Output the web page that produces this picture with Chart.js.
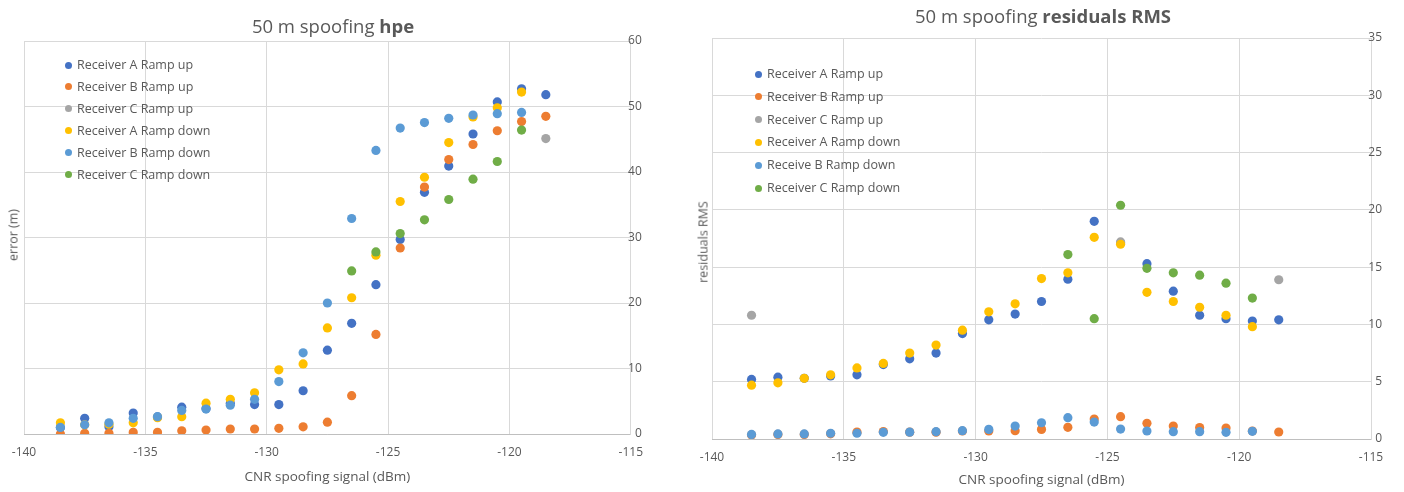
<!DOCTYPE html>
<html>
<head>
<meta charset="utf-8">
<script src="https://cdn.jsdelivr.net/npm/chart.js@4/dist/chart.umd.min.js"></script>
<style>
  html, body { margin: 0; padding: 0; background: #ffffff; }
  #wrap { position: relative; width: 1404px; height: 492px; background: #ffffff; overflow: hidden;
          font-family: 'Open Sans', sans-serif; color: #595959; }
  canvas { position: absolute; top: 0; }
  .title { position: absolute; transform: translate(-50%, -50%); font-size: 18.5px; white-space: nowrap; }
  .title b { font-weight: 700; }
  .ytitle { position: absolute; transform: translate(-50%, -50%) rotate(-90deg); font-size: 12.5px; white-space: nowrap; }
  .leg { position: absolute; font-size: 12.5px; white-space: nowrap; line-height: 16px; }
  .leg .dot { position: absolute; width: 7px; height: 7px; border-radius: 50%; }
</style>
</head>
<body>
<div id="wrap">
  <canvas id="c1" width="654" height="492" style="left:0px"></canvas>
  <canvas id="c2" width="724" height="492" style="left:680px"></canvas>
  <div class="title" style="left:333px; top:25px">50 m spoofing <b>hpe</b></div>
  <div class="title" style="left:1043px; top:15px">50 m spoofing <b>residuals RMS</b></div>
  <div class="ytitle" style="left:13px; top:235px">error (m)</div>
  <div class="ytitle" style="left:703px; top:242px">residuals RMS</div>
</div>
<script>
// ---- categories (CNR spoofing signal, dBm) ----
const cnr = [-138.5,-137.5,-136.5,-135.5,-134.5,-133.5,-132.5,-131.5,-130.5,-129.5,-128.5,-127.5,-126.5,-125.5,-124.5,-123.5,-122.5,-121.5,-120.5,-119.5,-118.5];

// ---- series names / colours ----
const namesLeft  = ['Receiver A Ramp up','Receiver B Ramp up','Receiver C Ramp up','Receiver A Ramp down','Receiver B Ramp down','Receiver C Ramp down'];
const namesRight = ['Receiver A Ramp up','Receiver B Ramp up','Receiver C Ramp up','Receiver A Ramp down','Receive B Ramp down','Receiver C Ramp down'];
const colors = ['#4472C4','#ED7D31','#A5A5A5','#FFC000','#5B9BD5','#70AD47'];

// ---- hpe (error, m) ----
const hpeAUp   = [1.0, 2.4, 1.1, 3.2, 2.6, 4.1, 3.9, 4.7, 4.5, 4.5, 6.6, 12.8, 16.9, 22.8, 29.7, 36.9, 40.9, 45.8, 50.7, 52.7, 51.8];
const hpeBUp   = [0.0, 0.1, 0.1, 0.25, 0.25, 0.5, 0.6, 0.76, 0.76, 0.87, 1.1, 1.8, 5.85, 15.2, 28.4, 37.7, 41.9, 44.2, 46.3, 47.7, 48.5];
const hpeCUp   = [null, null, null, null, null, null, null, null, null, null, null, null, null, null, null, null, null, null, null, null, 45.1];
const hpeADown = [1.7, 1.4, 1.5, 1.7, 2.5, 2.65, 4.7, 5.3, 6.3, 9.8, 10.7, 16.2, 20.8, 27.3, 35.5, 39.2, 44.5, 48.4, 49.8, 52.2, null];
const hpeBDown = [1.0, 1.4, 1.7, 2.4, 2.65, 3.6, 3.8, 4.4, 5.3, 8.0, 12.4, 20.0, 32.9, 43.3, 46.7, 47.55, 48.2, 48.7, 48.9, 49.1, null];
const hpeCDown = [null, null, null, null, null, null, null, null, null, null, null, null, 24.9, 27.8, 30.6, 32.7, 35.8, 38.9, 41.6, 46.4, null];

// ---- residuals RMS ----
const rmsAUp   = [5.2, 5.4, 5.3, 5.5, 5.6, 6.5, 7.0, 7.5, 9.2, 10.4, 10.9, 12.0, 13.95, 19.0, 17.1, 15.3, 12.9, 10.8, 10.5, 10.3, 10.4];
const rmsBUp   = [0.35, 0.4, 0.4, 0.45, 0.6, 0.65, 0.6, 0.6, 0.7, 0.7, 0.73, 0.84, 1.02, 1.74, 1.95, 1.37, 1.13, 1.0, 0.96, 0.7, 0.61];
const rmsCUp   = [10.8, null, null, null, null, null, null, null, null, null, null, null, null, null, 17.2, null, null, null, null, null, 13.9];
const rmsADown = [4.7, 4.9, 5.3, 5.6, 6.2, 6.6, 7.5, 8.2, 9.5, 11.1, 11.8, 14.0, 14.5, 17.6, 17.0, 12.8, 12.0, 11.5, 10.8, 9.8, null];
const rmsBDown = [0.4, 0.44, 0.44, 0.5, 0.5, 0.58, 0.6, 0.64, 0.73, 0.84, 1.13, 1.42, 1.86, 1.48, 0.87, 0.7, 0.64, 0.64, 0.58, 0.67, null];
const rmsCDown = [null, null, null, null, null, null, null, null, null, null, null, null, 16.1, 10.5, 20.4, 14.9, 14.5, 14.3, 13.6, 12.3, null];

// ---- axis ticks ----
const xTicks = [-140, -135, -130, -125, -120, -115];
const hpeTicks = [0, 10, 20, 30, 40, 50, 60];
const rmsTicks = [0, 5, 10, 15, 20, 25, 30, 35];

Chart.defaults.font.family = "'Open Sans', sans-serif";
Chart.defaults.color = '#595959';

function pts(vals) {
  const out = [];
  vals.forEach((v, i) => { if (v !== null) out.push({x: cnr[i], y: v}); });
  return out;
}

function makeChart(id, seriesList, names, yTicks, pad, xAxisH, xTitlePadBottom) {
  const datasets = seriesList.map((vals, i) => ({
    label: names[i],
    data: pts(vals),
    backgroundColor: colors[i],
    borderColor: colors[i],
    borderWidth: 0,
    pointRadius: 4.6,
    pointHoverRadius: 4.6,
    showLine: false,
    order: seriesList.length - i
  }));
  return new Chart(document.getElementById(id), {
    type: 'scatter',
    data: { datasets },
    options: {
      responsive: false,
      animation: false,
      devicePixelRatio: 1,
      layout: { padding: pad },
      plugins: { legend: { display: false }, tooltip: { enabled: false }, title: { display: false } },
      scales: {
        x: {
          type: 'linear',
          position: 'bottom',
          min: xTicks[0],
          max: xTicks[xTicks.length - 1],
          afterBuildTicks: (axis) => { axis.ticks = xTicks.map(v => ({value: v})); },
          afterFit: (axis) => { axis.height = xAxisH; },
          grid: { color: '#d9d9d9', lineWidth: 1, drawTicks: false },
          border: { display: true, color: '#bfbfbf', width: 1 },
          ticks: { font: { size: 12 }, color: '#595959', padding: 11, maxRotation: 0 },
          title: { display: true, text: 'CNR spoofing signal (dBm)', font: { size: 13.5 }, color: '#595959',
                   padding: { top: 0, bottom: xTitlePadBottom } }
        },
        y: {
          type: 'linear',
          position: 'right',
          min: yTicks[0],
          max: yTicks[yTicks.length - 1],
          afterBuildTicks: (axis) => { axis.ticks = yTicks.map(v => ({value: v})); },
          afterFit: (axis) => { axis.width = 0; },
          grid: { color: '#d9d9d9', lineWidth: 1, drawTicks: false },
          border: { display: true, color: '#d9d9d9', width: 1 },
          ticks: { font: { size: 12 }, color: '#595959', mirror: true, padding: 11 }
        }
      }
    }
  });
}

makeChart('c1', [hpeAUp, hpeBUp, hpeCUp, hpeADown, hpeBDown, hpeCDown], namesLeft, hpeTicks,
          { left: 24, right: 20, top: 41, bottom: 0 }, 58, 7);
makeChart('c2', [rmsAUp, rmsBUp, rmsCUp, rmsADown, rmsBDown, rmsCDown], namesRight, rmsTicks,
          { left: 32, right: 33, top: 38, bottom: 0 }, 53, 4);

// ---- HTML legends (inside plot areas) ----
function legend(names, dotX, textX, y0, step) {
  const wrap = document.getElementById('wrap');
  names.forEach((n, i) => {
    const cy = y0 + i * step;
    const d = document.createElement('div');
    d.className = 'leg';
    d.style.left = textX + 'px';
    d.style.top = (cy - 8) + 'px';
    d.textContent = n;
    const dot = document.createElement('span');
    dot.className = 'dot';
    dot.style.background = colors[i];
    dot.style.left = (dotX - textX - 3.5) + 'px';
    dot.style.top = '4.5px';
    d.appendChild(dot);
    wrap.appendChild(d);
  });
}
legend(namesLeft, 68, 77, 65, 21.9);
legend(namesRight, 758, 767, 74, 22.8);
</script>
</body>
</html>
